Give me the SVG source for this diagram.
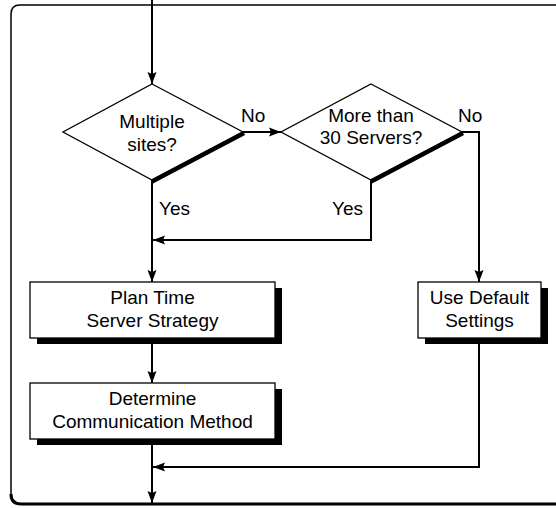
<svg xmlns="http://www.w3.org/2000/svg" width="556" height="508" viewBox="0 0 556 508">
<style>
text{font-family:"Liberation Sans",Arial,Helvetica,sans-serif;font-size:19px;fill:#000}
.c{text-anchor:middle}
.ln{fill:none;stroke:#000;stroke-width:2}
.box{fill:#fff;stroke:#000;stroke-width:1.3}
.sh{fill:#000}
.dia{fill:#fff;stroke:#000;stroke-width:1.3}
</style>
<defs>
<marker id="ah" markerWidth="12" markerHeight="10" viewBox="0 0 12 10" refX="12" refY="5" orient="auto" markerUnits="userSpaceOnUse">
<path d="M0,0.5 L12,5 L0,9.5 L2,5 Z" fill="#000"/>
</marker>
</defs>
<rect width="556" height="508" fill="#fff"/>
<g id="frame">
<path d="M11,496 L11,14 Q11,5 20,5 L556,5" fill="none" stroke="#000" stroke-width="1.5"/>
<path d="M11,494 Q11,504 21,504 L556,504" fill="none" stroke="#000" stroke-width="3"/>
</g>
<g id="connectors">
<path class="ln" d="M152,0 L152,84" marker-end="url(#ah)"/>
<path class="ln" d="M243,132 L281,132" marker-end="url(#ah)"/>
<path class="ln" d="M462,132 L479,132 L479,282" marker-end="url(#ah)"/>
<path class="ln" d="M152,180 L152,282" marker-end="url(#ah)"/>
<path class="ln" d="M371,180 L371,240 L153,240" marker-end="url(#ah)"/>
<path class="ln" d="M152,338 L152,383" marker-end="url(#ah)"/>
<path class="ln" d="M479,338 L479,467 L153,467" marker-end="url(#ah)"/>
<path class="ln" d="M152,439 L152,503" marker-end="url(#ah)"/>
</g>
<g id="d1">
<polygon class="dia" points="152,84 243,132 152,180 63,132"/>
<line x1="152" y1="181.5" x2="244" y2="133" stroke="#000" stroke-width="4.5"/>
<text class="c" x="152" y="128">Multiple</text>
<text class="c" x="152" y="151">sites?</text>
</g>
<g id="d2">
<polygon class="dia" points="371,84 462,132 371,180 281,132"/>
<line x1="371" y1="181.5" x2="463" y2="133" stroke="#000" stroke-width="4.5"/>
<text class="c" x="371" y="122">More than</text>
<text class="c" x="371" y="144">30 Servers?</text>
</g>
<g id="labels">
<text x="241" y="122">No</text>
<text x="458" y="122">No</text>
<text x="159" y="215">Yes</text>
<text x="332" y="215">Yes</text>
</g>
<g id="b1">
<rect class="sh" x="37" y="288" width="245" height="56"/>
<rect class="box" x="30" y="282" width="245" height="56"/>
<text class="c" x="152.5" y="304">Plan Time</text>
<text class="c" x="152.5" y="327">Server Strategy</text>
</g>
<g id="b2">
<rect class="sh" x="425" y="288" width="123" height="56"/>
<rect class="box" x="418" y="282" width="123" height="56"/>
<text class="c" x="479.5" y="304">Use Default</text>
<text class="c" x="479.5" y="327">Settings</text>
</g>
<g id="b3">
<rect class="sh" x="37" y="389" width="245" height="56"/>
<rect class="box" x="30" y="383" width="245" height="56"/>
<text class="c" x="152.5" y="405">Determine</text>
<text class="c" x="152.5" y="428">Communication Method</text>
</g>
</svg>
